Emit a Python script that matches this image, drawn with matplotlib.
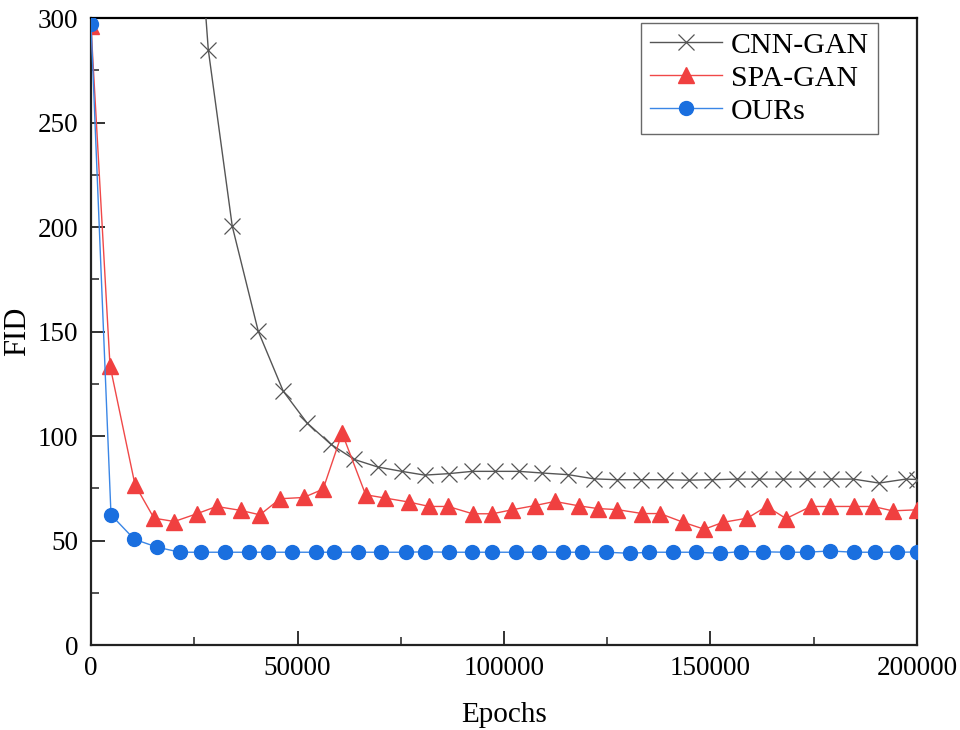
import matplotlib
matplotlib.use("Agg")
import matplotlib.pyplot as plt
from matplotlib.ticker import MultipleLocator

plt.rcParams['font.family'] = ['Liberation Serif', 'DejaVu Serif']

cnn_x = [0, 22600, 28400, 34200, 40500, 46560, 52300, 58110, 63750, 69400, 75230, 80800, 86600,
         92300, 97800, 103600, 109300, 115600, 121800, 127400, 133200, 138900, 144700, 150400,
         156400, 161700, 167500, 173300, 179100, 184600, 190800, 197300, 200000]
cnn_y = [900, 440, 284.8, 200.4, 150.1, 121.4, 106.3, 96.0, 88.8, 85.2, 83.1, 81.3, 82.0,
         83.1, 83.1, 83.1, 82.3, 81.5, 79.5, 79.1, 79.1, 79.1, 78.9, 79.1,
         79.4, 79.4, 79.4, 79.4, 79.4, 79.4, 77.5, 79.4, 79.2]

spa_x = [0, 4600, 10650, 15250, 20170, 25600, 30400, 36300, 40900, 45800, 51500, 56200, 60800,
         66500, 71300, 77000, 81900, 86500, 92400, 97200, 101900, 107400, 112300, 118100,
         122700, 127400, 133500, 137800, 143300, 148500, 153000, 158900, 163600, 168300,
         174300, 178900, 184700, 189400, 194100, 200000]
spa_y = [296, 133.7, 76.7, 60.7, 59.1, 62.8, 66.3, 64.4, 62.3, 70.0, 70.6, 74.6, 101.4,
         71.9, 70.3, 68.4, 66.3, 66.3, 62.8, 62.8, 64.7, 66.7, 68.7, 66.6,
         65.3, 64.8, 62.9, 62.9, 58.8, 55.4, 58.7, 60.7, 66.3, 60.5,
         66.3, 66.3, 66.3, 66.3, 64.2, 64.7]

ours_x = [0, 4840, 10490, 16050, 21550, 26630, 32450, 38250, 42780, 48670, 54480, 58840, 64730,
          70290, 76270, 80800, 86600, 92250, 97170, 102900, 108470, 114280, 118800, 124700,
          130500, 135100, 140800, 146400, 152300, 157300, 162700, 168500, 173300, 178900,
          184700, 189900, 195200, 200000]
ours_y = [297, 62.3, 50.6, 46.8, 44.4, 44.4, 44.4, 44.4, 44.4, 44.4, 44.4, 44.4, 44.4,
          44.4, 44.4, 44.6, 44.4, 44.4, 44.4, 44.4, 44.4, 44.4, 44.4, 44.4,
          43.9, 44.4, 44.4, 44.4, 43.9, 44.7, 44.6, 44.4, 44.4, 45.0,
          44.4, 44.4, 44.4, 44.5]

fig = plt.figure(figsize=(9.6, 7.3), dpi=100)
ax = fig.add_axes([0.0948, 0.1164, 0.8604, 0.8589])

ax.plot(cnn_x, cnn_y, color='#555555', lw=1.0, marker='x', ms=11, mew=0.9,
        mec='#555555', label='CNN-GAN', zorder=3)
ax.plot(spa_x, spa_y, color='#f04848', lw=1.0, marker='^', ms=11,
        mfc='#f04040', mec='#f04040', label='SPA-GAN', zorder=4)
ax.plot(ours_x, ours_y, color='#3a86e6', lw=1.0, marker='o', ms=10,
        mfc='#1a6fdf', mec='#1a6fdf', label='OURs', zorder=5)

ax.set_xlim(0, 200000)
ax.set_ylim(0, 300)
ax.xaxis.set_major_locator(MultipleLocator(50000))
ax.xaxis.set_minor_locator(MultipleLocator(25000))
ax.yaxis.set_major_locator(MultipleLocator(50))
ax.yaxis.set_minor_locator(MultipleLocator(25))
ax.tick_params(which='both', direction='in', top=False, right=False, labelsize=19.5, colors='#222222')
ax.tick_params(which='major', length=10, width=1.3)
ax.tick_params(which='minor', length=6, width=1.1)
ax.tick_params(axis='x', pad=8)
ax.tick_params(axis='y', pad=9)
for s in ax.spines.values():
    s.set_linewidth(1.6)
    s.set_color('#222222')
ax.spines['top'].set_color('#000000')

ax.set_xlabel('Epochs', fontsize=21, labelpad=15)
ax.set_ylabel('FID', fontsize=22, labelpad=4)

leg = ax.legend(loc='upper right', bbox_to_anchor=(0.9528, 0.992), borderaxespad=0.0,
                fontsize=21.5, frameon=True, fancybox=False,
                handlelength=2.4, borderpad=0.3, labelspacing=0.2,
                handletextpad=0.3, handleheight=0.7)
leg.get_frame().set_edgecolor('#444444')
leg.get_frame().set_linewidth(1.0)

for t in ax.get_xticklabels() + ax.get_yticklabels():
    t.set_color('#000000')

fig.savefig('out.png', dpi=100)
